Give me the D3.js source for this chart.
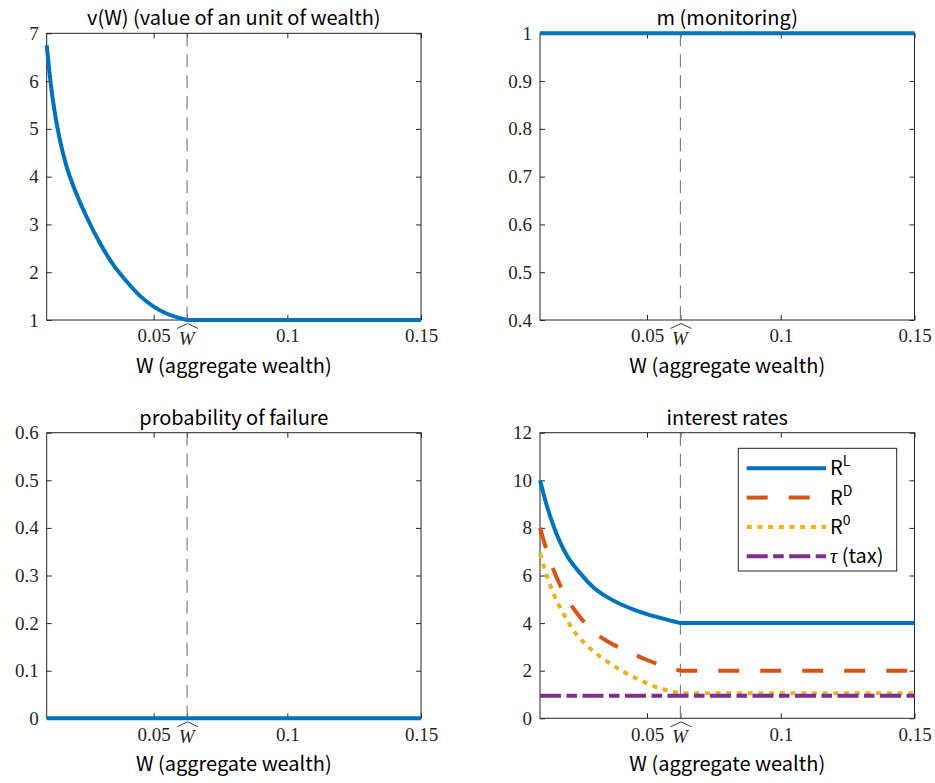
<!DOCTYPE html>
<html>
<head>
<meta charset="utf-8">
<script src="https://cdn.jsdelivr.net/npm/d3@7"></script>
<style>
  body { margin: 0; background: #fff; }
  .tick line { stroke: #262626; }
  .title, .xlabel { font-family: "Noto Sans CJK JP", "Noto Sans", sans-serif; font-size: 20px; fill: #000; }
  .legend text { font-family: "Noto Sans CJK JP", "Noto Sans", sans-serif; font-size: 20px; fill: #000; }
</style>
</head>
<body>
<div id="chart"></div>
<script>
// x axis ticks (W) and the threshold W-hat
var wHat = 0.0625;
var xTicks = [0.05, wHat, 0.1, 0.15];
var xTickLabels = ["0.05", "", "0.1", "0.15"];

// v(W)
var vW   = [0.01, 0.0115, 0.013, 0.015, 0.0175, 0.02, 0.025, 0.03, 0.035, 0.04, 0.045, 0.05, 0.055, 0.0625, 0.15];
var vVal = [6.75, 5.95, 5.35, 4.75, 4.2, 3.8, 3.15, 2.6, 2.15, 1.8, 1.5, 1.28, 1.13, 1.0, 1.0];

// m (monitoring)
var mW   = [0.01, 0.15];
var mVal = [1, 1];

// probability of failure
var pW   = [0.01, 0.15];
var pVal = [0, 0];

// interest rates
var rW    = [0.01, 0.0125, 0.015, 0.0175, 0.02, 0.025, 0.03, 0.035, 0.04, 0.045, 0.05, 0.055, 0.0625, 0.15];
var rlVal = [10, 8.95, 8.1, 7.4, 6.85, 6.1, 5.5, 5.1, 4.8, 4.57, 4.38, 4.22, 4.0, 4.0];
var rdVal = [8, 7.05, 6.25, 5.6, 5.05, 4.25, 3.65, 3.25, 2.95, 2.7, 2.45, 2.24, 2.0, 2.0];
var r0W   = [0.01, 0.0125, 0.015, 0.0187, 0.0224, 0.028, 0.0343, 0.0411, 0.0486, 0.056, 0.0625, 0.15];
var r0Val = [6.93, 6.02, 5.25, 4.41, 3.71, 3.01, 2.45, 1.96, 1.54, 1.22, 1.05, 1.05];
var tauW   = [0.01, 0.15];
var tauVal = [0.95, 0.95];

var legendNames = ["L", "D", "0", "tax"];

var colors = {blue: "#0072BD", orange: "#D95319", yellow: "#EDB120", purple: "#7E2F8E"};
var serif = "'Liberation Serif', 'DejaVu Serif', serif";

var svg = d3.select("#chart").append("svg")
    .attr("width", 935)
    .attr("height", 783);

var cols = [{left: 46.7, right: 421}, {left: 540, right: 914.5}];
var rows = [{top: 33.3, bottom: 320}, {top: 432.7, bottom: 718.3}];

function zip(xs, ys) {
    return xs.map(function(x, i) { return {w: x, v: ys[i]}; });
}

function styleTicks(sel) {
    sel.selectAll(".tick text")
        .style("font-family", serif)
        .style("font-size", "19px")
        .style("fill", "#262626");
}

function panel(col, row, title, yDomain, yTicks, yFmt) {
    var c = cols[col], r = rows[row];
    var width = c.right - c.left, height = r.bottom - r.top;
    var g = svg.append("g").attr("transform", "translate(" + c.left + "," + r.top + ")");

    var x = d3.scaleLinear().domain([0.01, 0.15]).range([0, width]);
    var y = d3.scaleLinear().domain(yDomain).range([height, 0]);

    // bottom axis with labels, ticks pointing inward
    var xb = g.append("g").attr("transform", "translate(0," + height + ")")
        .call(d3.axisBottom(x).tickValues(xTicks)
            .tickFormat(function(d, i) { return xTickLabels[i]; })
            .tickSizeInner(-5).tickSizeOuter(0).tickPadding(9));
    xb.select(".domain").remove();
    styleTicks(xb);

    // W-hat label
    var hat = xb.selectAll(".tick").filter(function(d) { return d === wHat; });
    hat.append("text")
        .attr("y", 25)
        .attr("x", -1)
        .attr("text-anchor", "middle")
        .style("font-family", serif)
        .style("font-style", "italic")
        .style("font-size", "19px")
        .style("fill", "#262626")
        .text("W");
    hat.append("path")
        .attr("d", "M-10.5,8.5 L0,3.5 L10.5,8.5")
        .attr("fill", "none")
        .attr("stroke", "#262626")
        .attr("stroke-width", 0.9);

    var xt = g.append("g")
        .call(d3.axisTop(x).tickValues(xTicks).tickFormat("").tickSizeInner(-5).tickSizeOuter(0));
    xt.select(".domain").remove();

    var yl = g.append("g")
        .call(d3.axisLeft(y).tickValues(yTicks).tickFormat(yFmt)
            .tickSizeInner(-5).tickSizeOuter(0).tickPadding(8));
    yl.select(".domain").remove();
    styleTicks(yl);

    var yr = g.append("g").attr("transform", "translate(" + width + ",0)")
        .call(d3.axisRight(y).tickValues(yTicks).tickFormat("").tickSizeInner(-5).tickSizeOuter(0));
    yr.select(".domain").remove();

    // threshold line
    g.append("line")
        .attr("x1", x(wHat)).attr("x2", x(wHat))
        .attr("y1", 0).attr("y2", height)
        .attr("stroke", "#808080")
        .attr("stroke-width", 1.2)
        .attr("stroke-dasharray", "13,8");

    // frame
    g.append("rect")
        .attr("width", width).attr("height", height)
        .attr("fill", "none")
        .attr("stroke", "#262626")
        .attr("stroke-width", 1);

    g.append("text")
        .attr("class", "title")
        .attr("x", width / 2).attr("y", -8)
        .attr("text-anchor", "middle")
        .text(title);

    g.append("text")
        .attr("class", "xlabel")
        .attr("x", width / 2).attr("y", height + 53)
        .attr("text-anchor", "middle")
        .text("W (aggregate wealth)");

    return {g: g, x: x, y: y};
}

// smooth curve up to W-hat, then straight segments (keeps the kink at W-hat)
function pathFor(p, data) {
    var curved = data.filter(function(d) { return d.w <= wHat; });
    var rest = data.filter(function(d) { return d.w > wHat; });
    var linear = d3.line()
        .x(function(d) { return p.x(d.w); })
        .y(function(d) { return p.y(d.v); });
    if (curved.length < 3) return linear(data);
    var smooth = d3.line()
        .x(function(d) { return p.x(d.w); })
        .y(function(d) { return p.y(d.v); })
        .curve(d3.curveMonotoneX);
    return smooth(curved) + rest.map(function(d) {
        return "L" + p.x(d.w) + "," + p.y(d.v);
    }).join("");
}

function addLine(p, data, color, dash) {
    var path = p.g.append("path")
        .attr("d", pathFor(p, data))
        .attr("fill", "none")
        .attr("stroke", color)
        .attr("stroke-width", 4);
    if (dash) path.attr("stroke-dasharray", dash);
    return path;
}

var p1 = panel(0, 0, "v(W) (value of an unit of wealth)", [1, 7], d3.range(1, 8), d3.format("d"));
addLine(p1, zip(vW, vVal), colors.blue);

var p2 = panel(1, 0, "m (monitoring)", [0.4, 1], [0.4, 0.5, 0.6, 0.7, 0.8, 0.9, 1],
    function(d) { return d === 1 ? "1" : d3.format(".1f")(d); });
addLine(p2, zip(mW, mVal), colors.blue);

var p3 = panel(0, 1, "probability of failure", [0, 0.6], [0, 0.1, 0.2, 0.3, 0.4, 0.5, 0.6],
    function(d) { return d === 0 ? "0" : d3.format(".1f")(d); });
addLine(p3, zip(pW, pVal), colors.blue);

var p4 = panel(1, 1, "interest rates", [0, 12], d3.range(0, 13, 2), d3.format("d"));
var styles = [
    {data: zip(rW, rlVal), color: colors.blue, dash: null},
    {data: zip(rW, rdVal), color: colors.orange, dash: "21,21"},
    {data: zip(r0W, r0Val), color: colors.yellow, dash: "5,5.7"},
    {data: zip(tauW, tauVal), color: colors.purple, dash: "21,5.5,10.5,5.5"}
];
styles.forEach(function(s) { addLine(p4, s.data, s.color, s.dash); });

// legend
var leg = svg.append("g").attr("class", "legend").attr("transform", "translate(738.3,448.3)");
leg.append("rect")
    .attr("width", 158.4).attr("height", 122.7)
    .attr("fill", "#fff")
    .attr("stroke", "#262626")
    .attr("stroke-width", 1);

styles.forEach(function(s, i) {
    var yy = 20 + i * 29.3;
    var ln = leg.append("line")
        .attr("x1", 8.4).attr("x2", 87.7)
        .attr("y1", yy).attr("y2", yy)
        .attr("stroke", s.color)
        .attr("stroke-width", 4);
    if (s.dash) ln.attr("stroke-dasharray", s.dash);

    var t = leg.append("text").attr("x", 91.7).attr("y", yy + 7);
    if (i < 3) {
        t.append("tspan").text("R");
        t.append("tspan").attr("dy", -9).style("font-size", "14px").text(legendNames[i]);
    } else {
        t.append("tspan")
            .style("font-family", serif)
            .style("font-style", "italic")
            .text("\u03C4");
        t.append("tspan").text(" (" + legendNames[i] + ")");
    }
});
</script>
</body>
</html>
